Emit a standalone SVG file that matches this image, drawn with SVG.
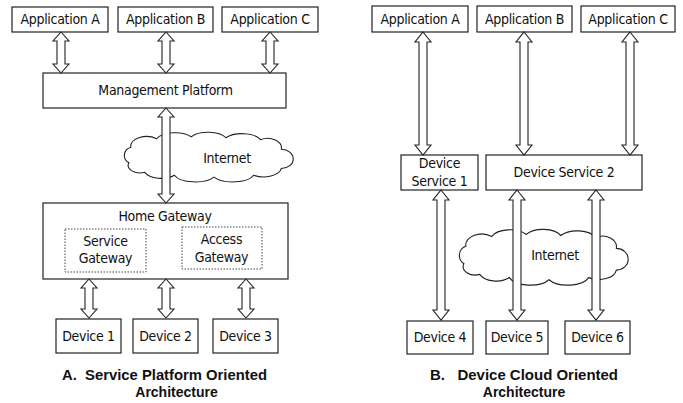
<svg xmlns="http://www.w3.org/2000/svg" width="683" height="403" viewBox="0 0 683 403">
  <style>
    .box { fill: #fff; stroke: #222; stroke-width: 1.2; }
    .dot { fill: none; stroke: #444; stroke-width: 1; stroke-dasharray: 1.5 1.5; }
    .cloud { fill: #fff; stroke: #222; stroke-width: 1.1; }
    .arrow { fill: #fff; stroke: #222; stroke-width: 1.1; stroke-linejoin: miter; }
    .lbl { font-family: "DejaVu Sans Condensed", "DejaVu Sans", sans-serif; font-size: 14px; fill: #111; text-anchor: middle; letter-spacing: -0.3px; }
    .cap { font-family: "Liberation Sans", Arial, sans-serif; font-size: 14px; font-weight: bold; fill: #111; }
  </style>
  <defs>
    <!-- generic cloud outline in a 180 x 48 box -->
    <path id="cloudShape" d="M 14,16 A 16,10 0 0 1 40,7 A 20,10 0 0 1 75,5 A 20,10 0 0 1 110,6 A 20,10 0 0 1 145,8 A 14,10 0 0 1 166,18 A 12,10 0 0 1 166,38 A 18,10 0 0 1 138,45 A 22,10 0 0 1 98,47 A 22,10 0 0 1 58,45 A 18,10 0 0 1 28,42 A 12,8 0 0 1 12,32 A 10,9 0 0 1 14,16 Z"/>
  </defs>

  <!-- ===== A. Service platform oriented ===== -->
  <g id="cloudA">
    <use href="#cloudShape" class="cloud" transform="translate(117,132) scale(0.99,0.96)"/>
    <text class="lbl" x="227" y="163">Internet</text>
  </g>

  <g id="appA1"><rect class="box" x="12" y="7" width="96" height="25"/><text class="lbl" x="60" y="24">Application A</text></g>
  <g id="appB1"><rect class="box" x="118" y="7" width="95" height="25"/><text class="lbl" x="165.5" y="24">Application B</text></g>
  <g id="appC1"><rect class="box" x="222" y="7" width="96" height="25"/><text class="lbl" x="270" y="24">Application C</text></g>

  <g id="mgmt"><rect class="box" x="43" y="73" width="243" height="35"/><text class="lbl" x="165.5" y="95">Management Platform</text></g>

  <g id="homeGateway">
    <rect class="box" x="43" y="203" width="245" height="76"/>
    <text class="lbl" x="165" y="220.5">Home Gateway</text>
    <g id="serviceGateway">
      <rect class="dot" x="65" y="229" width="81" height="43"/>
      <text class="lbl" x="105.5" y="246">Service</text>
      <text class="lbl" x="105.5" y="263">Gateway</text>
    </g>
    <g id="accessGateway">
      <rect class="dot" x="182" y="227" width="80" height="42"/>
      <text class="lbl" x="221.5" y="244">Access</text>
      <text class="lbl" x="221.5" y="261.5">Gateway</text>
    </g>
  </g>

  <g id="dev1"><rect class="box" x="56" y="319" width="65" height="34"/><text class="lbl" x="88.5" y="341">Device 1</text></g>
  <g id="dev2"><rect class="box" x="133" y="319" width="65" height="34"/><text class="lbl" x="165.5" y="341">Device 2</text></g>
  <g id="dev3"><rect class="box" x="213" y="319" width="65" height="34"/><text class="lbl" x="245.5" y="341">Device 3</text></g>

  <!-- ===== B. Device cloud oriented ===== -->
  <g id="cloudB">
    <use href="#cloudShape" class="cloud" transform="translate(452,229) scale(0.99,1.08)"/>
    <text class="lbl" x="555" y="259.5">Internet</text>
  </g>

  <g id="appA2"><rect class="box" x="372" y="6" width="96" height="26"/><text class="lbl" x="420" y="24">Application A</text></g>
  <g id="appB2"><rect class="box" x="477" y="6" width="95" height="26"/><text class="lbl" x="524.5" y="24">Application B</text></g>
  <g id="appC2"><rect class="box" x="581" y="6" width="94" height="26"/><text class="lbl" x="628" y="24">Application C</text></g>

  <g id="devService1">
    <rect class="box" x="401" y="155" width="77" height="35"/>
    <text class="lbl" x="439.5" y="168">Device</text>
    <text class="lbl" x="439.5" y="185.5">Service 1</text>
  </g>
  <g id="devService2"><rect class="box" x="486" y="155" width="156" height="35"/><text class="lbl" x="564" y="177">Device Service 2</text></g>

  <g id="dev4"><rect class="box" x="407" y="321" width="66" height="33"/><text class="lbl" x="440" y="342">Device 4</text></g>
  <g id="dev5"><rect class="box" x="486" y="321" width="62" height="33"/><text class="lbl" x="517" y="342">Device 5</text></g>
  <g id="dev6"><rect class="box" x="565" y="321" width="65" height="33"/><text class="lbl" x="597.5" y="342">Device 6</text></g>

  <!-- double-headed block arrows -->
  <g id="connectors">
    <polygon class="arrow" points="61,32 69,41 65,41 65,64 69,64 61,73 53,64 57,64 57,41 53,41"/>
    <polygon class="arrow" points="166,32 174,41 170,41 170,64 174,64 166,73 158,64 162,64 162,41 158,41"/>
    <polygon class="arrow" points="270,32 278,41 274,41 274,64 278,64 270,73 262,64 266,64 266,41 262,41"/>
    <polygon class="arrow" points="166,108 174,117 170,117 170,194 174,194 166,203 158,194 162,194 162,117 158,117"/>
    <polygon class="arrow" points="89,279 97,288 93,288 93,309 97,309 89,318 81,309 85,309 85,288 81,288"/>
    <polygon class="arrow" points="166,279 174,288 170,288 170,309 174,309 166,318 158,309 162,309 162,288 158,288"/>
    <polygon class="arrow" points="246,279 254,288 250,288 250,309 254,309 246,318 238,309 242,309 242,288 238,288"/>

    <polygon class="arrow" points="423,32 431,42 427,42 427,145 431,145 423,155 415,145 419,145 419,42 415,42"/>
    <polygon class="arrow" points="524,32 532,42 528,42 528,145 532,145 524,155 516,145 520,145 520,42 516,42"/>
    <polygon class="arrow" points="630,32 638,42 634,42 634,145 638,145 630,155 622,145 626,145 626,42 622,42"/>
    <polygon class="arrow" points="441,190 449,200 445,200 445,310 449,310 441,320 433,310 437,310 437,200 433,200"/>
    <polygon class="arrow" points="517,190 525,200 521,200 521,310 525,310 517,320 509,310 513,310 513,200 509,200"/>
    <polygon class="arrow" points="596,190 604,200 600,200 600,310 604,310 596,320 588,310 592,310 592,200 588,200"/>
  </g>

  <!-- captions -->
  <text class="cap" x="62" y="380" textLength="205" lengthAdjust="spacingAndGlyphs" xml:space="preserve">A.  Service Platform Oriented</text>
  <text class="cap" x="176.5" y="397" text-anchor="middle">Architecture</text>
  <text class="cap" x="430" y="380" textLength="188" lengthAdjust="spacingAndGlyphs" xml:space="preserve">B.   Device Cloud Oriented</text>
  <text class="cap" x="524" y="397" text-anchor="middle">Architecture</text>
</svg>
